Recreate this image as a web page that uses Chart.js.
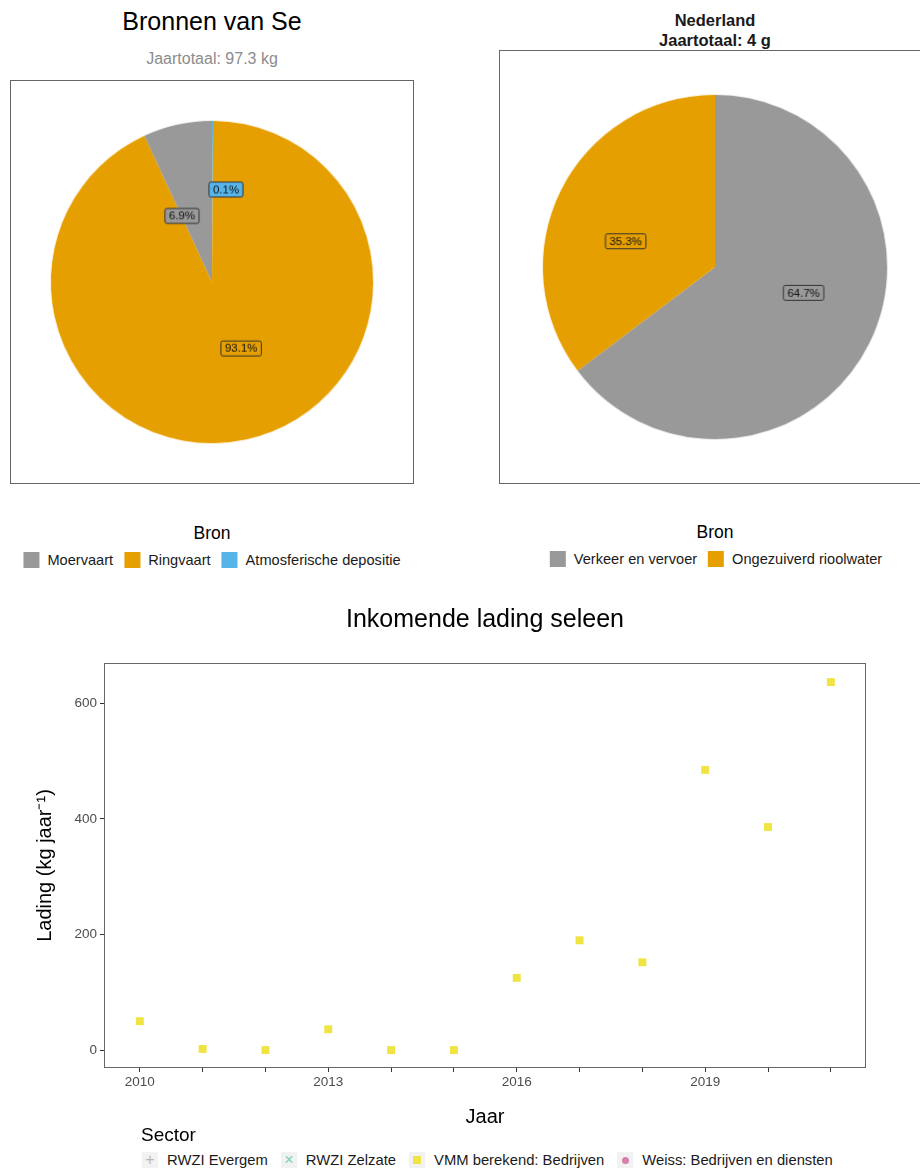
<!DOCTYPE html>
<html>
<head>
<meta charset="utf-8">
<title>Bronnen van Se</title>
<script src="https://cdn.jsdelivr.net/npm/chart.js@4.4.1/dist/chart.umd.min.js"></script>
<style>
  body { margin: 0; width: 920px; height: 1169px; overflow: hidden; background: #fff;
         font-family: 'Liberation Sans', Arial, sans-serif; position: relative; }
  .abs { position: absolute; line-height: 1; }
  .ctr { text-align: center; transform: translateX(-50%); white-space: nowrap; }
  .panel { position: absolute; border: 1px solid #666; box-sizing: border-box; }
  .legrow { position: absolute; display: flex; align-items: center; font-size: 14.6px; color: #1a1a1a;
            transform: translateX(-50%); white-space: nowrap; height: 16px; }
  .legrow .sw { width: 16px; height: 16px; margin-right: 8px; }
  .legrow .it { display: flex; align-items: center; margin-right: 11px; }
  .legrow .it:last-child { margin-right: 0; }
  .sect { position: absolute; display: flex; align-items: center; font-size: 14.8px; color: #1a1a1a; white-space: nowrap; height: 16px; }
  .sect .key { width: 16px; height: 16px; background: #f2f2f2; margin-right: 9px; display: flex;
               align-items: center; justify-content: center; font-size: 16px; line-height: 16px; }
  .sect .it { display: flex; align-items: center; margin-right: 13px; }
</style>
</head>
<body>

<div class="abs ctr" style="left:212px; top:9px; font-size:25px; color:#000;">Bronnen van Se</div>
<div class="abs ctr" style="left:212px; top:51px; font-size:16px; color:#8c8c8c;">Jaartotaal: 97.3 kg</div>
<canvas id="pie-se" class="panel" width="404" height="404" style="left:10px; top:80px;"></canvas>

<div class="abs ctr" style="left:715px; top:10px; font-size:16.5px; font-weight:bold; color:#1a1a1a; line-height:20px;">Nederland<br>Jaartotaal: 4 g</div>
<canvas id="pie-nl" class="panel" width="432" height="434" style="left:499px; top:50px;"></canvas>

<div class="abs ctr" style="left:212px; top:525px; font-size:17.5px; color:#000;">Bron</div>
<div class="legrow" id="leg-se" style="left:212px; top:552px;"></div>
<div class="abs ctr" style="left:715px; top:524px; font-size:17.5px; color:#000;">Bron</div>
<div class="legrow" id="leg-nl" style="left:716px; top:551px;"></div>

<canvas id="lading" class="abs" width="920" height="540" style="left:0; top:595px;"></canvas>

<div class="abs" style="left:141px; top:1125px; font-size:19px; color:#000;">Sector</div>
<div class="sect" id="leg-sector" style="left:142px; top:1152px;"></div>

<script>
    // --- data ---
    var seSources = ["Moervaart", "Ringvaart", "Atmosferische depositie"];
    var seShares = [6.9, 93.1, 0.1];
    var seColors = ["#999999", "#E69F00", "#56B4E9"];

    var nlSources = ["Verkeer en vervoer", "Ongezuiverd rioolwater"];
    var nlShares = [64.7, 35.3];
    var nlColors = ["#999999", "#E69F00"];

    var years = [2010, 2011, 2012, 2013, 2014, 2015, 2016, 2017, 2018, 2019, 2020, 2021];
    var vmmBedrijven = [50, 2, 0, 36, 0, 0, 125, 190, 152, 485, 386, 637];
    var xLabelYears = [2010, 2013, 2016, 2019];
    var yTicks = [0, 200, 400, 600];

    var sectors = ["RWZI Evergem", "RWZI Zelzate", "VMM berekend: Bedrijven", "Weiss: Bedrijven en diensten"];

    Chart.defaults.font.family = "'Liberation Sans', Arial, sans-serif";
    Chart.defaults.animation = false;

    // labels in boxes on the pie slices
    var sliceLabels = {
        id: "sliceLabels",
        afterDatasetsDraw: function(chart, args, opts) {
            var ctx = chart.ctx;
            var meta = chart.getDatasetMeta(0);
            var ds = chart.data.datasets[0];
            ctx.save();
            ctx.font = "11.5px 'Liberation Sans', Arial, sans-serif";
            ctx.textAlign = "center";
            ctx.textBaseline = "middle";
            meta.data.forEach(function(arc, i) {
                var mid = (arc.startAngle + arc.endAngle) / 2 + opts.shift[i] * Math.PI / 180;
                var r = arc.outerRadius * opts.radius[i];
                var x = arc.x + Math.cos(mid) * r;
                var y = arc.y + Math.sin(mid) * r;
                var txt = ds.data[i].toFixed(1) + "%";
                var w = ctx.measureText(txt).width + 8;
                var h = 15;
                ctx.beginPath();
                ctx.roundRect(x - w / 2, y - h / 2, w, h, 2);
                ctx.fillStyle = ds.backgroundColor[i];
                ctx.fill();
                ctx.lineWidth = 1;
                ctx.strokeStyle = "#333";
                ctx.stroke();
                ctx.fillStyle = "#111";
                ctx.fillText(txt, x, y + 0.5);
            });
            ctx.restore();
        }
    };

    // ggplot draws the Se pie in reverse stacking order
    new Chart(document.getElementById("pie-se"), {
        type: "pie",
        data: {
            labels: seSources.slice().reverse(),
            datasets: [{ data: seShares.slice().reverse(), backgroundColor: seColors.slice().reverse(), borderWidth: 0 }]
        },
        options: {
            responsive: false,
            layout: { padding: 40 },
            plugins: {
                legend: { display: false },
                tooltip: { enabled: false },
                sliceLabels: { shift: [8.4, -11.4, -12], radius: [0.58, 0.45, 0.45] }
            }
        },
        plugins: [sliceLabels]
    });

    new Chart(document.getElementById("pie-nl"), {
        type: "pie",
        data: {
            labels: nlSources,
            datasets: [{ data: nlShares, backgroundColor: nlColors, borderWidth: 0 }]
        },
        options: {
            responsive: false,
            layout: { padding: { left: 43, right: 43, top: 44, bottom: 44 } },
            plugins: {
                legend: { display: false },
                tooltip: { enabled: false },
                sliceLabels: { shift: [-10.2, -10.4], radius: [0.536, 0.54] }
            }
        },
        plugins: [sliceLabels]
    });

    // HTML legends for the pies
    function fillLegend(id, names, colors) {
        var el = document.getElementById(id);
        names.forEach(function(n, i) {
            var it = document.createElement("div");
            it.className = "it";
            it.innerHTML = '<div class="sw" style="background:' + colors[i] + '"></div><span>' + n + '</span>';
            el.appendChild(it);
        });
    }
    fillLegend("leg-se", seSources, seColors);
    fillLegend("leg-nl", nlSources, nlColors);

    var sectorKeys = [
        '<span style="color:#b8b8b8">+</span>',
        '<span style="color:#7fcfb3">&times;</span>',
        '<span style="display:block;width:8px;height:8px;background:#F0E442"></span>',
        '<span style="display:block;width:7px;height:7px;border-radius:50%;background:#d480ad"></span>'
    ];
    var sect = document.getElementById("leg-sector");
    sectors.forEach(function(n, i) {
        var it = document.createElement("div");
        it.className = "it";
        it.innerHTML = '<div class="key">' + sectorKeys[i] + '</div><span>' + n + '</span>';
        sect.appendChild(it);
    });

    var panelBorder = {
        id: "panelBorder",
        afterDraw: function(chart) {
            var a = chart.chartArea;
            var ctx = chart.ctx;
            ctx.save();
            ctx.strokeStyle = "#666";
            ctx.lineWidth = 1;
            ctx.strokeRect(a.left + 0.5, a.top + 0.5, a.right - a.left - 1, a.bottom - a.top - 1);
            ctx.restore();
        }
    };

    new Chart(document.getElementById("lading"), {
        type: "scatter",
        data: {
            datasets: [{
                label: sectors[2],
                data: years.map(function(y, i) { return { x: y, y: vmmBedrijven[i] }; }),
                pointStyle: "rect",
                pointRadius: 5.6,
                backgroundColor: "#F0E442",
                borderWidth: 0
            }]
        },
        options: {
            responsive: false,
            layout: { padding: { right: 54 } },
            plugins: {
                legend: { display: false },
                tooltip: { enabled: false },
                title: {
                    display: true,
                    fullSize: false,
                    text: "Inkomende lading seleen",
                    color: "#000",
                    font: { size: 25, weight: "normal" },
                    padding: { top: 10, bottom: 28 }
                }
            },
            scales: {
                x: {
                    type: "linear",
                    min: 2009.43,
                    max: 2021.56,
                    afterBuildTicks: function(s) { s.ticks = years.map(function(v) { return { value: v }; }); },
                    afterFit: function(s) { s.height = 67; },
                    ticks: {
                        autoSkip: false, maxRotation: 0, color: "#4d4d4d", font: { size: 13.5 }, padding: 2,
                        callback: function(v) { return xLabelYears.indexOf(v) >= 0 ? String(v) : ""; }
                    },
                    grid: { drawOnChartArea: false, drawTicks: true, tickLength: 4, color: "#333" },
                    border: { display: false },
                    title: { display: true, text: "Jaar", color: "#000", font: { size: 20 }, padding: { bottom: 6 } }
                },
                y: {
                    min: -31,
                    max: 670,
                    afterBuildTicks: function(s) { s.ticks = yTicks.map(function(v) { return { value: v }; }); },
                    afterFit: function(s) { s.width = 104; },
                    ticks: { color: "#4d4d4d", font: { size: 13.5 }, padding: 3 },
                    grid: { drawOnChartArea: false, drawTicks: true, tickLength: 4, color: "#333" },
                    border: { display: false },
                    title: { display: true, text: "Lading (kg jaar\u207B\u00B9)", color: "#000", font: { size: 20 }, padding: { top: 33 } }
                }
            }
        },
        plugins: [panelBorder]
    });
</script>
</body>
</html>
